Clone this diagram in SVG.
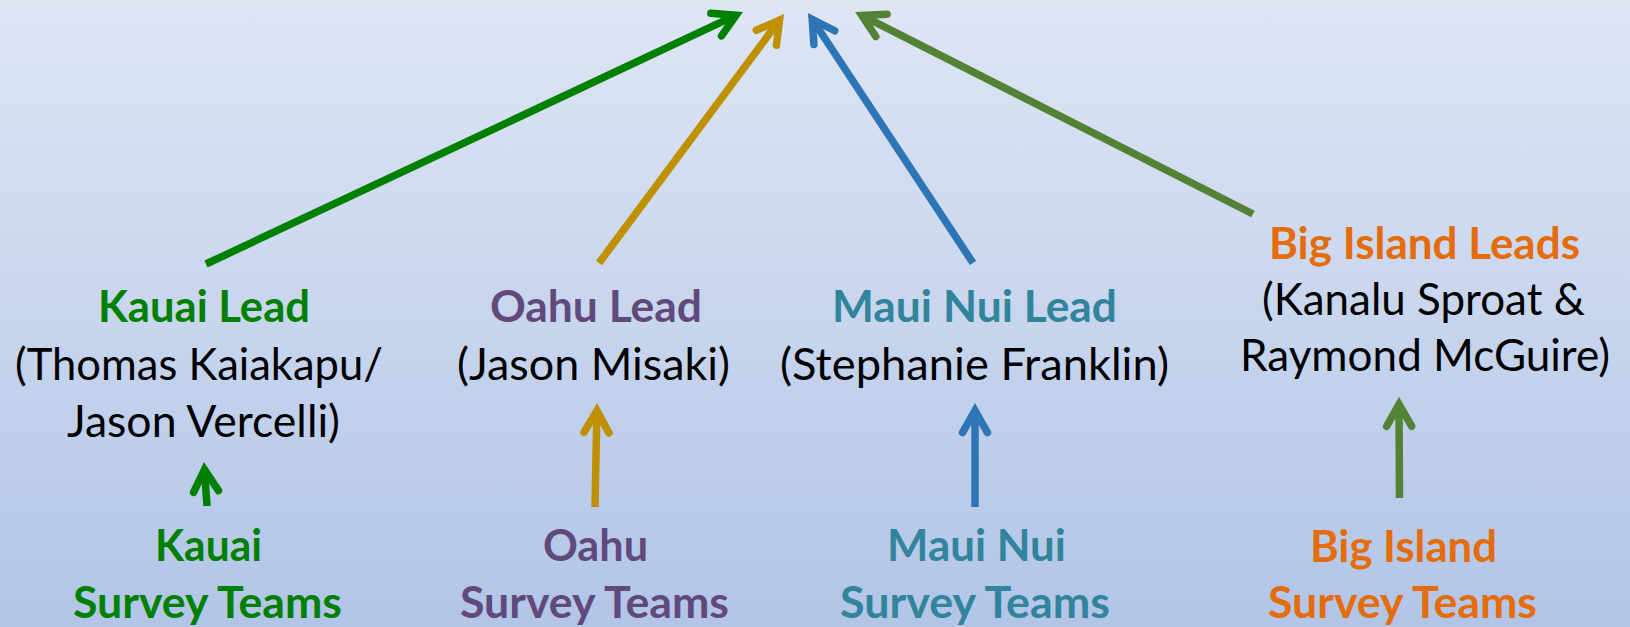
<svg xmlns="http://www.w3.org/2000/svg" width="1630" height="627" viewBox="0 0 1630 627">
  <defs>
    <linearGradient id="bg" x1="0" y1="0" x2="0" y2="1">
      <stop offset="0" stop-color="#DEE6F4"/>
      <stop offset="1" stop-color="#B2C5E7"/>
    </linearGradient>
    <marker id="mGreen" viewBox="-30 -20 40 40" markerWidth="40" markerHeight="40" refX="0" refY="0" orient="auto" markerUnits="userSpaceOnUse" overflow="visible">
      <path class="head" d="M -22 -12.5 L 0 0 L -22 12.5" stroke="#008000"/>
    </marker>
    <marker id="mGold" viewBox="-30 -20 40 40" markerWidth="40" markerHeight="40" refX="0" refY="0" orient="auto" markerUnits="userSpaceOnUse" overflow="visible">
      <path class="head" d="M -22 -12.5 L 0 0 L -22 12.5" stroke="#BF9000"/>
    </marker>
    <marker id="mBlue" viewBox="-30 -20 40 40" markerWidth="40" markerHeight="40" refX="0" refY="0" orient="auto" markerUnits="userSpaceOnUse" overflow="visible">
      <path class="head" d="M -22 -12.5 L 0 0 L -22 12.5" stroke="#2E75B6"/>
    </marker>
    <marker id="mOlive" viewBox="-30 -20 40 40" markerWidth="40" markerHeight="40" refX="0" refY="0" orient="auto" markerUnits="userSpaceOnUse" overflow="visible">
      <path class="head" d="M -22 -12.5 L 0 0 L -22 12.5" stroke="#548235"/>
    </marker>
  </defs>
  <style>
    .head { fill: none; stroke-width: 7.5; stroke-linecap: round; stroke-linejoin: miter; }
    .conn { fill: none; stroke-width: 7.5; stroke-linecap: butt; }
    .green { stroke: #008000; marker-end: url(#mGreen); }
    .gold { stroke: #BF9000; marker-end: url(#mGold); }
    .blue { stroke: #2E75B6; marker-end: url(#mBlue); }
    .olive { stroke: #548235; marker-end: url(#mOlive); }
    text { font-family: Lato, "Open Sans", "Liberation Sans", sans-serif; font-size: 44px; }
    .b { font-weight: bold; }
    .n { fill: #000000; }
    .tg { fill: #008000; }
    .tp { fill: #604A7B; }
    .tt { fill: #31849B; }
    .to { fill: #E46C0A; }
  </style>
  <rect x="0" y="0" width="1630" height="627" fill="url(#bg)"/>

  <g id="connectors">
    <line class="conn green" x1="206" y1="264" x2="736.1" y2="15.2"/>
    <line class="conn gold" x1="599" y1="263" x2="779.5" y2="20.1"/>
    <line class="conn blue" x1="973" y1="263" x2="812.2" y2="19.3"/>
    <line class="conn olive" x1="1253" y1="214" x2="861.8" y2="15.4"/>
    <line class="conn green" x1="207" y1="506" x2="204.5" y2="469.6"/>
    <line class="conn gold" x1="595" y1="507" x2="596.9" y2="410.6"/>
    <line class="conn blue" x1="975" y1="507" x2="975" y2="410.6"/>
    <line class="conn olive" x1="1399.5" y1="498" x2="1399" y2="404.3"/>
  </g>

  <g id="kauai-lead">
    <text class="b tg" x="98" y="322" textLength="212" lengthAdjust="spacingAndGlyphs">Kauai Lead</text>
    <text class="n" x="15" y="380" textLength="368" lengthAdjust="spacingAndGlyphs">(Thomas Kaiakapu/</text>
    <text class="n" x="67" y="437" textLength="273" lengthAdjust="spacingAndGlyphs">Jason Vercelli)</text>
  </g>
  <g id="oahu-lead">
    <text class="b tp" x="490" y="322" textLength="212" lengthAdjust="spacingAndGlyphs">Oahu Lead</text>
    <text class="n" x="457" y="380" textLength="273" lengthAdjust="spacingAndGlyphs">(Jason Misaki)</text>
  </g>
  <g id="maui-lead">
    <text class="b tt" x="832" y="322" textLength="285" lengthAdjust="spacingAndGlyphs">Maui Nui Lead</text>
    <text class="n" x="780" y="380" textLength="389" lengthAdjust="spacingAndGlyphs">(Stephanie Franklin)</text>
  </g>
  <g id="bigisland-leads">
    <text class="b to" x="1269" y="259" textLength="311" lengthAdjust="spacingAndGlyphs">Big Island Leads</text>
    <text class="n" x="1262" y="315" textLength="323" lengthAdjust="spacingAndGlyphs">(Kanalu Sproat &amp;</text>
    <text class="n" x="1240" y="371" textLength="370" lengthAdjust="spacingAndGlyphs">Raymond McGuire)</text>
  </g>

  <g id="kauai-teams">
    <text class="b tg" x="155" y="561" textLength="107" lengthAdjust="spacingAndGlyphs">Kauai</text>
    <text class="b tg" x="73" y="618" textLength="269" lengthAdjust="spacingAndGlyphs">Survey Teams</text>
  </g>
  <g id="oahu-teams">
    <text class="b tp" x="543" y="561" textLength="105" lengthAdjust="spacingAndGlyphs">Oahu</text>
    <text class="b tp" x="460" y="618" textLength="269" lengthAdjust="spacingAndGlyphs">Survey Teams</text>
  </g>
  <g id="maui-teams">
    <text class="b tt" x="887" y="561" textLength="179" lengthAdjust="spacingAndGlyphs">Maui Nui</text>
    <text class="b tt" x="840" y="618" textLength="270" lengthAdjust="spacingAndGlyphs">Survey Teams</text>
  </g>
  <g id="bigisland-teams">
    <text class="b to" x="1310" y="562" textLength="187" lengthAdjust="spacingAndGlyphs">Big Island</text>
    <text class="b to" x="1268" y="618" textLength="269" lengthAdjust="spacingAndGlyphs">Survey Teams</text>
  </g>
</svg>
